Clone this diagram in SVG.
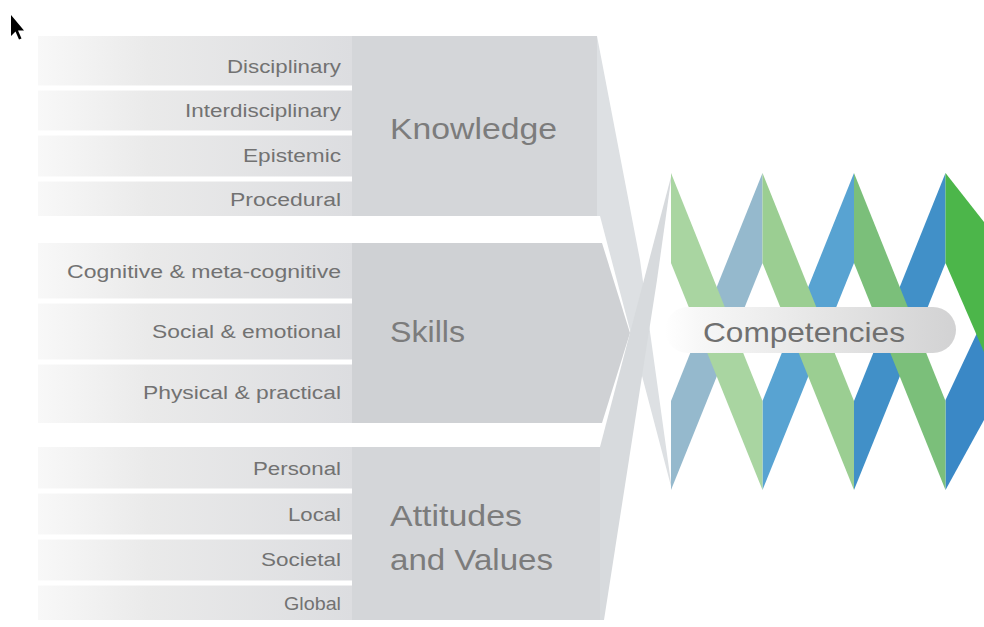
<svg xmlns="http://www.w3.org/2000/svg" width="984" height="627" viewBox="0 0 984 627">
  <defs>
    <linearGradient id="rowGrad" gradientUnits="userSpaceOnUse" x1="38" y1="0" x2="352" y2="0">
      <stop offset="0" stop-color="#f8f8f8"/>
      <stop offset="0.35" stop-color="#eaeaea"/>
      <stop offset="1" stop-color="#dcdde0"/>
    </linearGradient>
    <linearGradient id="pillGrad" gradientUnits="userSpaceOnUse" x1="665" y1="0" x2="956" y2="0">
      <stop offset="0" stop-color="#ffffff"/>
      <stop offset="0.12" stop-color="#f7f7f7"/>
      <stop offset="0.55" stop-color="#e5e5e5"/>
      <stop offset="1" stop-color="#d2d2d3"/>
    </linearGradient>
  </defs>
  <style>
    .title-area { fill: #d4d6d9; }
    .rows { fill: url(#rowGrad); }
    .sep { fill: #ffffff; }
    .sub { font-family: "Liberation Sans", Arial, sans-serif; font-size: 18px; fill: #727272; }
    .ttl { font-family: "Liberation Sans", Arial, sans-serif; font-size: 30px; fill: #7c7c7c; }
    .comp { font-family: "Liberation Sans", Arial, sans-serif; font-size: 28px; fill: #707070; }
  </style>
  <rect width="984" height="627" fill="#ffffff"/>

  <!-- Skills block (underneath the crossing bands) -->
  <g id="node-skills">
    <polygon points="38,243 602,243 630,333 602,423 38,423" fill="#cfd1d4"/>
    <rect class="rows" x="38" y="243" width="314" height="180"/>
    <rect class="sep" x="38" y="298.5" width="314" height="5"/>
    <rect class="sep" x="38" y="359.5" width="314" height="5"/>
    <text class="sub" x="67" y="278" textLength="274" lengthAdjust="spacingAndGlyphs">Cognitive &amp; meta-cognitive</text>
    <text class="sub" x="152" y="338" textLength="189" lengthAdjust="spacingAndGlyphs">Social &amp; emotional</text>
    <text class="sub" x="143" y="399" textLength="198" lengthAdjust="spacingAndGlyphs">Physical &amp; practical</text>
    <text class="ttl" x="390" y="342" textLength="75" lengthAdjust="spacingAndGlyphs">Skills</text>
  </g>

  <!-- Knowledge block -->
  <g id="node-knowledge">
    <rect class="title-area" x="38" y="36" width="559" height="180"/>
    <rect class="rows" x="38" y="36" width="314" height="180"/>
    <rect class="sep" x="38" y="85.5" width="314" height="5"/>
    <rect class="sep" x="38" y="130.5" width="314" height="5"/>
    <rect class="sep" x="38" y="176.5" width="314" height="5"/>
    <text class="sub" x="227" y="73" textLength="114" lengthAdjust="spacingAndGlyphs">Disciplinary</text>
    <text class="sub" x="185" y="117" textLength="156" lengthAdjust="spacingAndGlyphs">Interdisciplinary</text>
    <text class="sub" x="243" y="162" textLength="98" lengthAdjust="spacingAndGlyphs">Epistemic</text>
    <text class="sub" x="230" y="206" textLength="111" lengthAdjust="spacingAndGlyphs">Procedural</text>
    <text class="ttl" x="390" y="139" textLength="167" lengthAdjust="spacingAndGlyphs">Knowledge</text>
  </g>

  <!-- Attitudes and Values block -->
  <g id="node-attitudes">
    <rect class="title-area" x="38" y="447" width="564" height="173"/>
    <rect class="rows" x="38" y="447" width="314" height="173"/>
    <rect class="sep" x="38" y="488.5" width="314" height="5"/>
    <rect class="sep" x="38" y="534.5" width="314" height="5"/>
    <rect class="sep" x="38" y="580.5" width="314" height="5"/>
    <text class="sub" x="253" y="475" textLength="88" lengthAdjust="spacingAndGlyphs">Personal</text>
    <text class="sub" x="288" y="521" textLength="53" lengthAdjust="spacingAndGlyphs">Local</text>
    <text class="sub" x="261" y="566" textLength="80" lengthAdjust="spacingAndGlyphs">Societal</text>
    <text class="sub" x="284" y="610" textLength="57" lengthAdjust="spacingAndGlyphs">Global</text>
    <text class="ttl" x="390" y="526" textLength="132" lengthAdjust="spacingAndGlyphs">Attitudes</text>
    <text class="ttl" x="390" y="570" textLength="163" lengthAdjust="spacingAndGlyphs">and Values</text>
  </g>

  <!-- Connectors: gray bands flowing from the blocks into the weave -->
  <g id="connectors">
    <polygon points="597,36 640,260 672,490 600,216 597,216" fill="#dde0e3"/>
    <polygon points="600,447 672,173 657,280 604,620 600,620" fill="#d7dadd"/>
  </g>

  <!-- Competencies weave and label -->
  <g id="node-competencies">
    <g id="weave-blue">
      <polygon points="671,401 762.5,173 762.5,263 671,490" fill="#95b9cd"/>
      <polygon points="762.5,401 854,173 854,263 762.5,490" fill="#58a3d2"/>
      <polygon points="854,401 945.5,173 945.5,263 854,490" fill="#4190c8"/>
      <polygon points="945.5,400 984,318 984,420 945.5,490" fill="#3a88c6"/>
    </g>
    <g id="weave-green">
      <polygon points="671,173 762.5,401 762.5,490 671,263" fill="#a9d5a1"/>
      <polygon points="762.5,173 854,401 854,490 762.5,263" fill="#9bce92"/>
      <polygon points="854,173 945.5,401 945.5,490 854,263" fill="#7bbf7a"/>
      <polygon points="945.5,173 984,222 984,352 945.5,263" fill="#4cb64a"/>
    </g>
    <rect x="665" y="307" width="291" height="46" rx="23" ry="23" fill="url(#pillGrad)"/>
    <text class="comp" x="703" y="342" textLength="202" lengthAdjust="spacingAndGlyphs">Competencies</text>
  </g>

  <!-- mouse pointer visible in the picture -->
  <path d="M11,15 L11,36 L15.5,31.5 L19,39.5 L21.5,38.5 L18,30.5 L24,30.5 Z" fill="#000000"/>
</svg>
